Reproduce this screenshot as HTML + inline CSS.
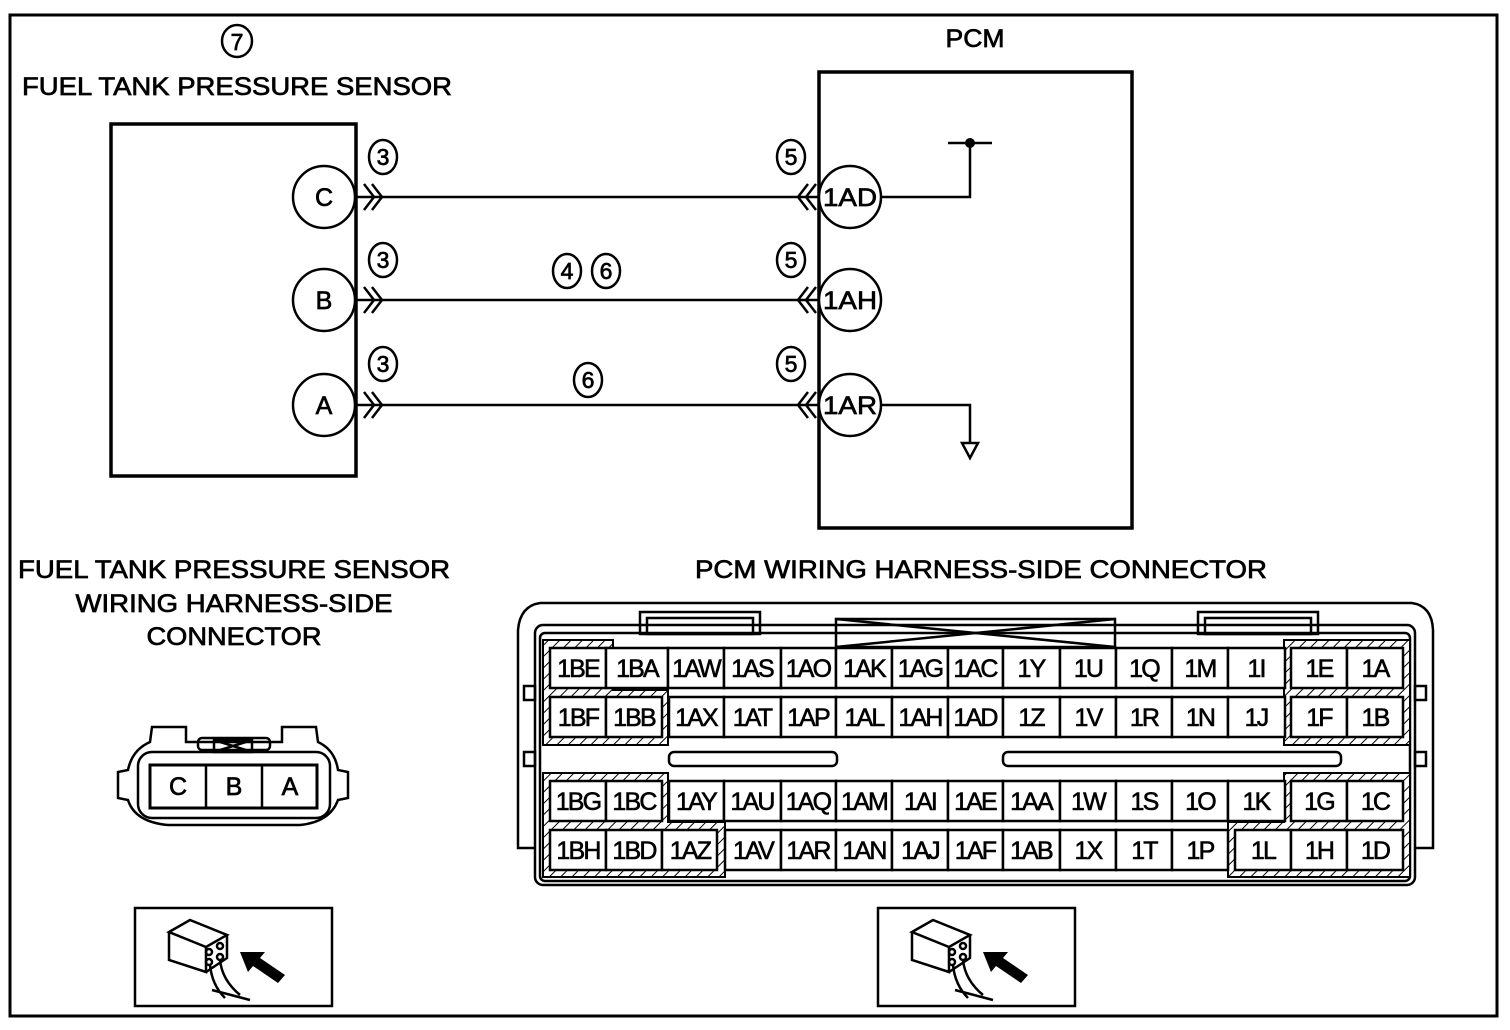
<!DOCTYPE html>
<html><head><meta charset="utf-8"><style>
html,body{margin:0;padding:0;background:#fff;}
svg{display:block;font-family:"Liberation Sans",Arial,sans-serif;}
</style></head><body>
<svg width="1510" height="1030" viewBox="0 0 1510 1030" xmlns="http://www.w3.org/2000/svg">
<defs>
<pattern id="h" width="8" height="8" patternUnits="userSpaceOnUse" patternTransform="rotate(45)">
<rect width="8" height="8" fill="#fff"/><line x1="0" y1="0" x2="0" y2="8" stroke="#000" stroke-width="2"/>
</pattern>
</defs>
<rect x="0" y="0" width="1510" height="1030" fill="#fff"/>
<rect x="10" y="15" width="1487" height="1001" fill="none" stroke="#000" stroke-width="3"/>

<g fill="none" stroke="#000" stroke-width="2.5">
<ellipse cx="237" cy="41" rx="15" ry="16"/>
</g>
<g font-size="25" text-anchor="middle" fill="#000" stroke="#000" stroke-width="0.7">
<text x="237" y="50" font-size="23">7</text>
<text x="237" y="95" textLength="430" lengthAdjust="spacingAndGlyphs">FUEL TANK PRESSURE SENSOR</text>
<text x="975" y="47" textLength="59" lengthAdjust="spacingAndGlyphs">PCM</text>
</g>

<rect x="111" y="124" width="245" height="352" fill="none" stroke="#000" stroke-width="3.5"/>
<rect x="819" y="72" width="313" height="456" fill="none" stroke="#000" stroke-width="3.5"/>

<g stroke="#000" stroke-width="2.5" fill="none">
<line x1="356" y1="197" x2="819" y2="197"/>
<line x1="356" y1="300" x2="819" y2="300"/>
<line x1="356" y1="405" x2="819" y2="405"/>
<path d="M364 184 L374 197 L364 210 M372 184 L382 197 L372 210"/>
<path d="M364 287 L374 300 L364 313 M372 287 L382 300 L372 313"/>
<path d="M364 392 L374 405 L364 418 M372 392 L382 405 L372 418"/>
<path d="M808 184 L798 197 L808 210 M816 184 L806 197 L816 210"/>
<path d="M808 287 L798 300 L808 313 M816 287 L806 300 L816 313"/>
<path d="M808 392 L798 405 L808 418 M816 392 L806 405 L816 418"/>
<polyline points="881,197 970,197 970,143"/>
<line x1="948" y1="143" x2="992" y2="143"/>
<polyline points="881,405 970,405 970,443"/>
<path d="M962 443 L978 443 L970 458 Z"/>
</g>
<circle cx="970" cy="143" r="5" fill="#000"/>

<g fill="#fff" stroke="#000" stroke-width="2.5">
<circle cx="324" cy="197" r="31"/><circle cx="324" cy="300" r="31"/><circle cx="324" cy="405" r="31"/>
<circle cx="850" cy="197" r="31"/><circle cx="850" cy="300" r="31"/><circle cx="850" cy="405" r="31"/>
<ellipse cx="383" cy="157" rx="14" ry="17"/><ellipse cx="383" cy="260" rx="14" ry="17"/><ellipse cx="383" cy="364" rx="14" ry="17"/>
<ellipse cx="791" cy="157" rx="14" ry="17"/><ellipse cx="791" cy="260" rx="14" ry="17"/><ellipse cx="791" cy="364" rx="14" ry="17"/>
<ellipse cx="567" cy="271" rx="14" ry="17"/><ellipse cx="606" cy="271" rx="14" ry="17"/><ellipse cx="588" cy="380" rx="14" ry="17"/>
</g>
<g font-size="25" text-anchor="middle" fill="#000" stroke="#000" stroke-width="0.7">
<text x="324" y="206">C</text><text x="324" y="309">B</text><text x="324" y="414">A</text>
<text x="850" y="206" textLength="54" lengthAdjust="spacingAndGlyphs">1AD</text>
<text x="850" y="309" textLength="54" lengthAdjust="spacingAndGlyphs">1AH</text>
<text x="850" y="414" textLength="54" lengthAdjust="spacingAndGlyphs">1AR</text>
<g font-size="23">
<text x="383" y="165">3</text><text x="383" y="268">3</text><text x="383" y="372">3</text>
<text x="791" y="165">5</text><text x="791" y="268">5</text><text x="791" y="372">5</text>
<text x="567" y="279">4</text><text x="606" y="279">6</text><text x="588" y="388">6</text>
</g>
<text x="234" y="578" textLength="432" lengthAdjust="spacingAndGlyphs">FUEL TANK PRESSURE SENSOR</text>
<text x="234" y="612" textLength="317" lengthAdjust="spacingAndGlyphs">WIRING HARNESS-SIDE</text>
<text x="234" y="645" textLength="175" lengthAdjust="spacingAndGlyphs">CONNECTOR</text>
<text x="981" y="578" textLength="572" lengthAdjust="spacingAndGlyphs">PCM WIRING HARNESS-SIDE CONNECTOR</text>
</g>

<g fill="none" stroke="#000" stroke-width="2.5">
<path d="M152 727 L186 727 L186 742 L282 742 L282 727 L316 727 L318 742 Q335 750 338 770 L348 772 L348 798 L338 800 Q330 822 300 825 L168 825 Q135 822 128 800 L118 798 L118 772 L128 770 Q132 750 150 742 Z"/>
<rect x="138" y="752" width="192" height="66" rx="14"/>
<rect x="150" y="765" width="167" height="43" stroke-width="3"/>
<line x1="206" y1="765" x2="206" y2="808"/><line x1="262" y1="765" x2="262" y2="808"/>
<rect x="198" y="738" width="72" height="12" rx="4"/>
<rect x="214" y="740" width="38" height="12"/>
<path d="M214 740 L252 752 M252 740 L214 752"/>
</g>
<g font-size="25" text-anchor="middle" fill="#000" stroke="#000" stroke-width="0.7">
<text x="178" y="795">C</text><text x="234" y="795">B</text><text x="290" y="795">A</text>
</g>

<g fill="none" stroke="#000" stroke-width="2.5">
<path d="M540 603 L1412 603 Q1432 606 1433 630 L1433 848 L1416 848"/>
<path d="M540 603 Q520 606 518 630 L518 848 L535 848"/>
<rect x="535" y="625" width="880" height="260" rx="8"/>
<rect x="540" y="633" width="870" height="248" rx="5"/>
<rect x="640" y="612" width="120" height="22"/><rect x="647" y="618" width="106" height="16"/>
<rect x="1198" y="612" width="120" height="22"/><rect x="1205" y="618" width="106" height="16"/>
<rect x="836" y="619" width="279" height="28"/>
<path d="M836 619 L1115 647 M836 647 L1115 619"/>
<rect x="524" y="686" width="11" height="14"/><rect x="524" y="752" width="11" height="14"/>
<rect x="1415" y="686" width="11" height="14"/><rect x="1415" y="752" width="11" height="14"/>
<rect x="669" y="752" width="168" height="14" rx="5"/>
<rect x="1003" y="752" width="338" height="14" rx="5"/>
</g>
<g stroke="#000" stroke-width="2">
<path fill="url(#h)" d="M543 640 L613 640 L613 690 L668 690 L668 745 L543 745 Z"/>
<path fill="url(#h)" d="M543 773 L668 773 L668 822 L725 822 L725 877 L543 877 Z"/>
<path fill="url(#h)" d="M1284 640 L1410 640 L1410 745 L1284 745 Z"/>
<path fill="url(#h)" d="M1284 773 L1410 773 L1410 877 L1228 877 L1228 822 L1284 822 Z"/>
</g>
<g fill="#fff" stroke="#000" stroke-width="2.5">
<rect x="550" y="648" width="56" height="40"/><rect x="606" y="648" width="62" height="40"/><rect x="668" y="648" width="56" height="40"/><rect x="724" y="648" width="57" height="40"/><rect x="781" y="648" width="55" height="40"/><rect x="836" y="648" width="56" height="40"/><rect x="892" y="648" width="56" height="40"/><rect x="948" y="648" width="55" height="40"/><rect x="1003" y="648" width="57" height="40"/><rect x="1060" y="648" width="56" height="40"/><rect x="1116" y="648" width="56" height="40"/><rect x="1172" y="648" width="56" height="40"/><rect x="1228" y="648" width="57" height="40"/><rect x="1291" y="648" width="56" height="40"/><rect x="1347" y="648" width="56" height="40"/>
<rect x="550" y="697" width="56" height="40"/><rect x="606" y="697" width="56" height="40"/><rect x="669" y="697" width="55" height="40"/><rect x="724" y="697" width="57" height="40"/><rect x="781" y="697" width="55" height="40"/><rect x="836" y="697" width="56" height="40"/><rect x="892" y="697" width="56" height="40"/><rect x="948" y="697" width="55" height="40"/><rect x="1003" y="697" width="57" height="40"/><rect x="1060" y="697" width="56" height="40"/><rect x="1116" y="697" width="56" height="40"/><rect x="1172" y="697" width="56" height="40"/><rect x="1228" y="697" width="57" height="40"/><rect x="1291" y="697" width="56" height="40"/><rect x="1347" y="697" width="56" height="40"/>
<rect x="550" y="781" width="56" height="40"/><rect x="606" y="781" width="56" height="40"/><rect x="669" y="781" width="55" height="40"/><rect x="724" y="781" width="57" height="40"/><rect x="781" y="781" width="55" height="40"/><rect x="836" y="781" width="56" height="40"/><rect x="892" y="781" width="56" height="40"/><rect x="948" y="781" width="55" height="40"/><rect x="1003" y="781" width="57" height="40"/><rect x="1060" y="781" width="56" height="40"/><rect x="1116" y="781" width="56" height="40"/><rect x="1172" y="781" width="56" height="40"/><rect x="1228" y="781" width="57" height="40"/><rect x="1291" y="781" width="56" height="40"/><rect x="1347" y="781" width="56" height="40"/>
<rect x="550" y="830" width="56" height="40"/><rect x="606" y="830" width="56" height="40"/><rect x="662" y="830" width="55" height="40"/><rect x="725" y="830" width="56" height="40"/><rect x="781" y="830" width="55" height="40"/><rect x="836" y="830" width="56" height="40"/><rect x="892" y="830" width="56" height="40"/><rect x="948" y="830" width="55" height="40"/><rect x="1003" y="830" width="57" height="40"/><rect x="1060" y="830" width="56" height="40"/><rect x="1116" y="830" width="56" height="40"/><rect x="1172" y="830" width="56" height="40"/><rect x="1235" y="830" width="56" height="40"/><rect x="1291" y="830" width="56" height="40"/><rect x="1347" y="830" width="56" height="40"/>
</g>
<g font-size="25" text-anchor="middle" fill="#000" stroke="#000" stroke-width="0.6" letter-spacing="-1.8">
<text x="578" y="677">1BE</text><text x="637" y="677">1BA</text><text x="696" y="677">1AW</text><text x="752" y="677">1AS</text><text x="808" y="677">1AO</text><text x="864" y="677">1AK</text><text x="920" y="677">1AG</text><text x="975" y="677">1AC</text><text x="1031" y="677">1Y</text><text x="1088" y="677">1U</text><text x="1144" y="677">1Q</text><text x="1200" y="677">1M</text><text x="1256" y="677">1I</text><text x="1319" y="677">1E</text><text x="1375" y="677">1A</text>
<text x="578" y="726">1BF</text><text x="634" y="726">1BB</text><text x="696" y="726">1AX</text><text x="752" y="726">1AT</text><text x="808" y="726">1AP</text><text x="864" y="726">1AL</text><text x="920" y="726">1AH</text><text x="975" y="726">1AD</text><text x="1031" y="726">1Z</text><text x="1088" y="726">1V</text><text x="1144" y="726">1R</text><text x="1200" y="726">1N</text><text x="1256" y="726">1J</text><text x="1319" y="726">1F</text><text x="1375" y="726">1B</text>
<text x="578" y="810">1BG</text><text x="634" y="810">1BC</text><text x="696" y="810">1AY</text><text x="752" y="810">1AU</text><text x="808" y="810">1AQ</text><text x="864" y="810">1AM</text><text x="920" y="810">1AI</text><text x="975" y="810">1AE</text><text x="1031" y="810">1AA</text><text x="1088" y="810">1W</text><text x="1144" y="810">1S</text><text x="1200" y="810">1O</text><text x="1256" y="810">1K</text><text x="1319" y="810">1G</text><text x="1375" y="810">1C</text>
<text x="578" y="859">1BH</text><text x="634" y="859">1BD</text><text x="690" y="859">1AZ</text><text x="753" y="859">1AV</text><text x="808" y="859">1AR</text><text x="864" y="859">1AN</text><text x="920" y="859">1AJ</text><text x="975" y="859">1AF</text><text x="1031" y="859">1AB</text><text x="1088" y="859">1X</text><text x="1144" y="859">1T</text><text x="1200" y="859">1P</text><text x="1263" y="859">1L</text><text x="1319" y="859">1H</text><text x="1375" y="859">1D</text>
</g>

<g id="ic">
<rect x="135" y="908" width="197" height="98" fill="none" stroke="#000" stroke-width="2.5"/>
<g fill="none" stroke="#000" stroke-width="2.5">
<path d="M169 932 L190 920 L227 935 L206 947 Z"/>
<path d="M169 932 L169 960 L206 972 L206 947"/>
<path d="M227 935 L227 958 L206 972"/>
<circle cx="209" cy="952" r="3"/><circle cx="220" cy="946" r="3"/><circle cx="209" cy="962" r="3"/><circle cx="220" cy="957" r="3"/>
<path d="M210 965 Q212 985 225 998 M220 960 Q222 980 240 995 M212 990 L250 1000"/>
</g>
<path d="M240 952 L265 952 L260 958 L285 975 L278 983 L253 966 L248 972 Z" fill="#000"/>
</g>
<use href="#ic" transform="translate(743,0)"/>
</svg>
</body></html>
